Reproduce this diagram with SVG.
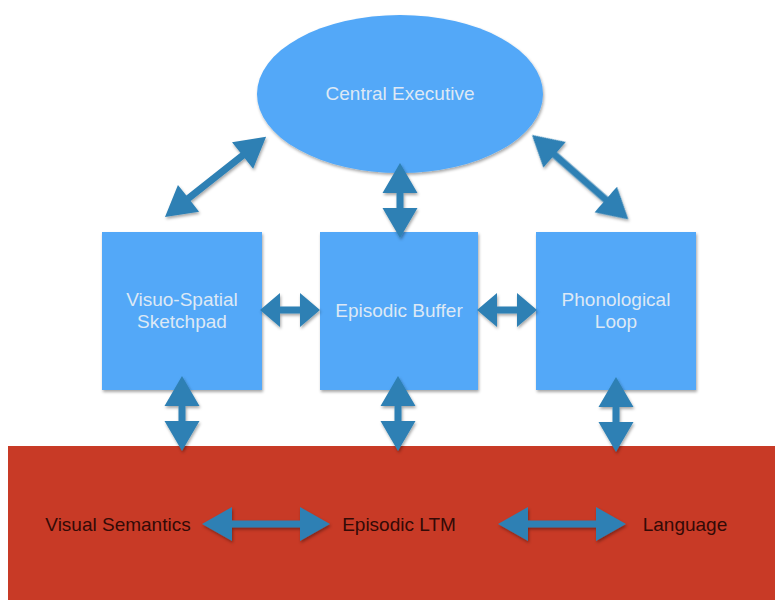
<svg xmlns="http://www.w3.org/2000/svg" width="775" height="600" viewBox="0 0 775 600">
<defs>
<filter id="sh" x="-20%" y="-20%" width="140%" height="140%">
<feDropShadow dx="1" dy="2" stdDeviation="1.5" flood-color="#000" flood-opacity="0.35"/>
</filter>
<polygon id="a129" points="0,0 30,-17 30,-3.5 99,-3.5 99,-17 129,0 99,17 99,3.5 30,3.5 30,17"/>
<polygon id="a128" points="0,0 30,-17 30,-3.5 98,-3.5 98,-17 128,0 98,17 98,3.5 30,3.5 30,17"/>
<polygon id="a75" points="0,0 30,-17.5 30,-3.5 45,-3.5 45,-17.5 75,0 45,17.5 45,3.5 30,3.5 30,17.5"/>
<polygon id="a60" points="0,0 20,-17 20,-3.5 40,-3.5 40,-17 60,0 40,17 40,3.5 20,3.5 20,17"/>
</defs>
<style>
.blue{fill:#52a8f8;filter:url(#sh)}
.red{fill:#c83a26}
.lt{font-family:"Liberation Sans",Arial,sans-serif;font-size:19px;fill:#dde8f5;text-anchor:middle}
.dk{font-family:"Liberation Sans",Arial,sans-serif;font-size:19px;fill:#330a06;text-anchor:middle}
.arr use{fill:#2e80b4}
.arr{filter:url(#sh)}
</style>
<rect width="775" height="600" fill="#ffffff"/>
<g id="ltm">
<rect class="red" x="8" y="446" width="780" height="160"/>
<text class="dk" x="118" y="531">Visual Semantics</text>
<text class="dk" x="399" y="531">Episodic LTM</text>
<text class="dk" x="685" y="531">Language</text>
</g>
<g id="central-executive">
<ellipse class="blue" cx="400" cy="94" rx="143" ry="79"/>
<text class="lt" x="400" y="100">Central Executive</text>
</g>
<g id="visuo-spatial">
<rect class="blue" x="102" y="232" width="160" height="158"/>
<text class="lt" x="182" y="306">Visuo-Spatial</text>
<text class="lt" x="182" y="328">Sketchpad</text>
</g>
<g id="episodic-buffer">
<rect class="blue" x="320" y="232" width="158" height="158"/>
<text class="lt" x="399" y="317">Episodic Buffer</text>
</g>
<g id="phonological-loop">
<rect class="blue" x="536" y="232" width="160" height="158"/>
<text class="lt" x="616" y="306">Phonological</text>
<text class="lt" x="616" y="328">Loop</text>
</g>
<g id="connectors" class="arr">
<use href="#a129" transform="translate(165,217) rotate(-38.4)"/>
<use href="#a128" transform="translate(532,135) rotate(41.2)"/>
<use href="#a75" transform="translate(400,163) rotate(90)"/>
<use href="#a60" transform="translate(260,310)"/>
<use href="#a60" transform="translate(477,310)"/>
<use href="#a75" transform="translate(182,376) rotate(90)"/>
<use href="#a75" transform="translate(398,376) rotate(90)"/>
<use href="#a75" transform="translate(616,377) rotate(90)"/>
<use href="#a128" transform="translate(202,524)"/>
<use href="#a128" transform="translate(498,524)"/>
</g>
</svg>
